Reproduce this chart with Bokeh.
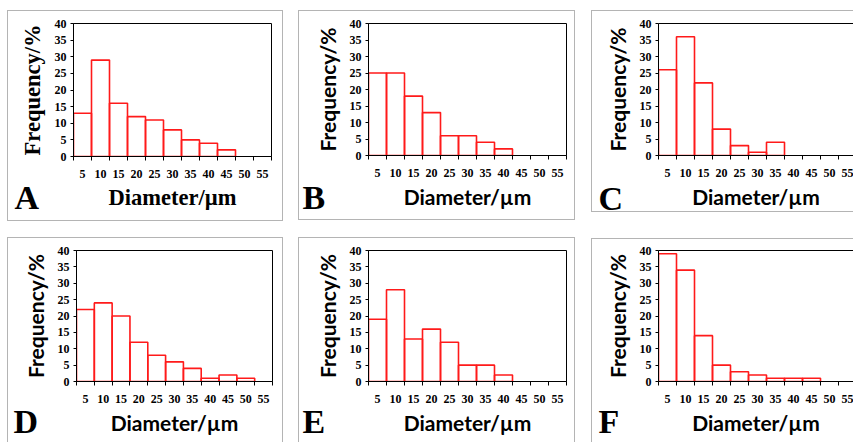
from bokeh.plotting import figure
from bokeh.models import Range1d, FixedTicker, LinearAxis, Label
from bokeh.layouts import column, row
from bokeh.embed import file_html
from bokeh.resources import INLINE

# ---------------- data ----------------
diameter_bins = ["5", "10", "15", "20", "25", "30", "35", "40", "45", "50", "55"]
freq_A = [13, 29, 16, 12, 11, 8, 5, 4, 2, 0, 0]
freq_B = [25, 25, 18, 13, 6, 6, 4, 2, 0, 0, 0]
freq_C = [26, 36, 22, 8, 3, 1, 4, 0, 0, 0, 0]
freq_D = [22, 24, 20, 12, 8, 6, 4, 1, 2, 1, 0]
freq_E = [19, 28, 13, 16, 12, 5, 5, 2, 0, 0, 0]
freq_F = [39, 34, 14, 5, 3, 2, 1, 1, 1, 0, 0]
y_ticks = [0, 5, 10, 15, 20, 25, 30, 35, 40]
x_title = "Diameter/µm"
y_title = "Frequency/%"

SERIF = "Liberation Serif"
SANS = "Lato"
BOXC = "#b4b4b4"
BAR_PX = 18.0          # width of one diameter class on screen
BASELINE_FIX = 12.5    # alphabetic-baseline correction of the letter labels


def box_css(width, top, h, open_right=False, open_bottom=False):
    g = "linear-gradient({c},{c})".format(c=BOXC)
    parts = ["{g} 0px {t}px / 100% 1px no-repeat".format(g=g, t=top),
             "{g} 0px {t}px / 1px {h}px no-repeat".format(g=g, t=top, h=h)]
    if not open_right:
        parts.append("{g} {x}px {t}px / 1px {h}px no-repeat".format(g=g, x=width - 1, t=top, h=h))
    if not open_bottom:
        parts.append("{g} 0px {t}px / 100% 1px no-repeat".format(g=g, t=top + h - 1))
    return {"background": ", ".join(parts)}


def make_panel(letter, values, width, height, borders, margin, serif_titles,
               letter_off, letter_side, box, open_right=False, open_bottom=False):
    bl, br, bt, bb = borders
    n = len(diameter_bins)
    fw = width - bl - br
    fh = height - bt - bb
    x_end = min(n, fw / BAR_PX) if open_right else n
    p = figure(width=width, height=height,
               x_range=Range1d(0, x_end), y_range=Range1d(0, 40),
               output_backend="svg", toolbar_location=None,
               min_border_left=bl, min_border_right=br,
               min_border_top=bt, min_border_bottom=bb,
               margin=margin,
               background_fill_color="white",
               border_fill_color="white", border_fill_alpha=0.0)
    p.styles = box_css(width, box[0], box[1], open_right, open_bottom)

    idx = [i for i, v in enumerate(values) if v > 0]
    tops = [values[i] for i in idx]
    p.quad(left=idx, right=[i + 1 for i in idx], bottom=0, top=tops,
           fill_color=None, line_color="#ff1a1a", line_width=1.6)

    p.xgrid.visible = False
    p.ygrid.visible = False

    tfont = SERIF if serif_titles else SANS
    tsize = "22.5px" if serif_titles else "21px"

    xa = p.xaxis[0]
    xa.ticker = FixedTicker(ticks=[i + 0.5 for i in range(n)],
                            minor_ticks=list(range(n + 1)))
    xa.major_label_overrides = {i + 0.5: lab for i, lab in enumerate(diameter_bins)}
    xa.major_tick_out = 0
    xa.major_tick_in = 0
    xa.minor_tick_out = 4
    xa.minor_tick_in = 0
    xa.minor_tick_line_color = "black"
    xa.axis_line_color = "black"
    xa.major_label_text_font = SERIF
    xa.major_label_text_font_style = "bold"
    xa.major_label_text_font_size = "12px"
    xa.major_label_text_color = "black"
    xa.major_label_standoff = 9
    xa.axis_label = x_title
    xa.axis_label_text_font = tfont
    xa.axis_label_text_font_style = "bold"
    xa.axis_label_text_font_size = tsize
    xa.axis_label_text_color = "black"
    xa.axis_label_standoff = 4

    ya = p.yaxis[0]
    ya.ticker = FixedTicker(ticks=y_ticks)
    ya.major_tick_out = 3
    ya.major_tick_in = 0
    ya.minor_tick_out = 0
    ya.minor_tick_in = 0
    ya.axis_line_color = "black"
    ya.major_tick_line_color = "black"
    ya.major_label_text_font = SERIF
    ya.major_label_text_font_style = "bold"
    ya.major_label_text_font_size = "12px"
    ya.major_label_text_color = "black"
    ya.major_label_standoff = 4
    ya.axis_label = y_title
    ya.axis_label_text_font = tfont
    ya.axis_label_text_font_style = "bold"
    ya.axis_label_text_font_size = tsize
    ya.axis_label_text_color = "black"
    ya.axis_label_standoff = 7

    if open_right:
        p.outline_line_color = None
        top = LinearAxis(ticker=FixedTicker(ticks=[]), axis_line_color="black",
                         major_tick_out=0, major_tick_in=0,
                         minor_tick_out=0, minor_tick_in=0)
        p.add_layout(top, "above")
    else:
        p.outline_line_color = "black"
        p.outline_line_width = 1

    dx, dy = letter_off
    p.add_layout(Label(x=dx / (fw / x_end), y=-(dy - BASELINE_FIX) / (fh / 40.0), text=letter,
                       text_font=SERIF, text_font_style="bold",
                       text_font_size="34px", text_color="black",
                       text_baseline="alphabetic", text_align="left"), letter_side)
    return p


# row 1: element tops at y=10, letter kept in the bottom border region
pA = make_panel("A", freq_A, 276, 246, (66, 12, 13, 100), (10, 0, -41, 7), True,
                (-59, 53), "below", (0, 211))
pB = make_panel("B", freq_B, 277, 245, (70, 9, 13, 100), (10, 0, -40, 15), False,
                (-66, 54), "below", (0, 210))
pC = make_panel("C", freq_C, 262, 245, (67, 0, 12, 100), (10, 0, -40, 16), False,
                (-60, 56), "below", (0, 202), open_right=True)
# row 2: element tops at y=208, letter kept in the top border region
pD = make_panel("D", freq_D, 276, 234, (69, 11, 42, 61), (-7, 0, 0, 7), False,
                (-63, 52), "above", (29, 205), open_bottom=True)
pE = make_panel("E", freq_E, 277, 234, (70, 9, 42, 61), (-7, 0, 0, 15), False,
                (-66, 52), "above", (29, 205), open_bottom=True)
pF = make_panel("F", freq_F, 262, 234, (67, 0, 42, 61), (-7, 0, 0, 16), False,
                (-60, 52), "above", (30, 204), open_right=True, open_bottom=True)

layout = column(row(pA, pB, pC, spacing=0), row(pD, pE, pF, spacing=0), spacing=0)

open("out.html", "w").write(file_html(layout, INLINE))
